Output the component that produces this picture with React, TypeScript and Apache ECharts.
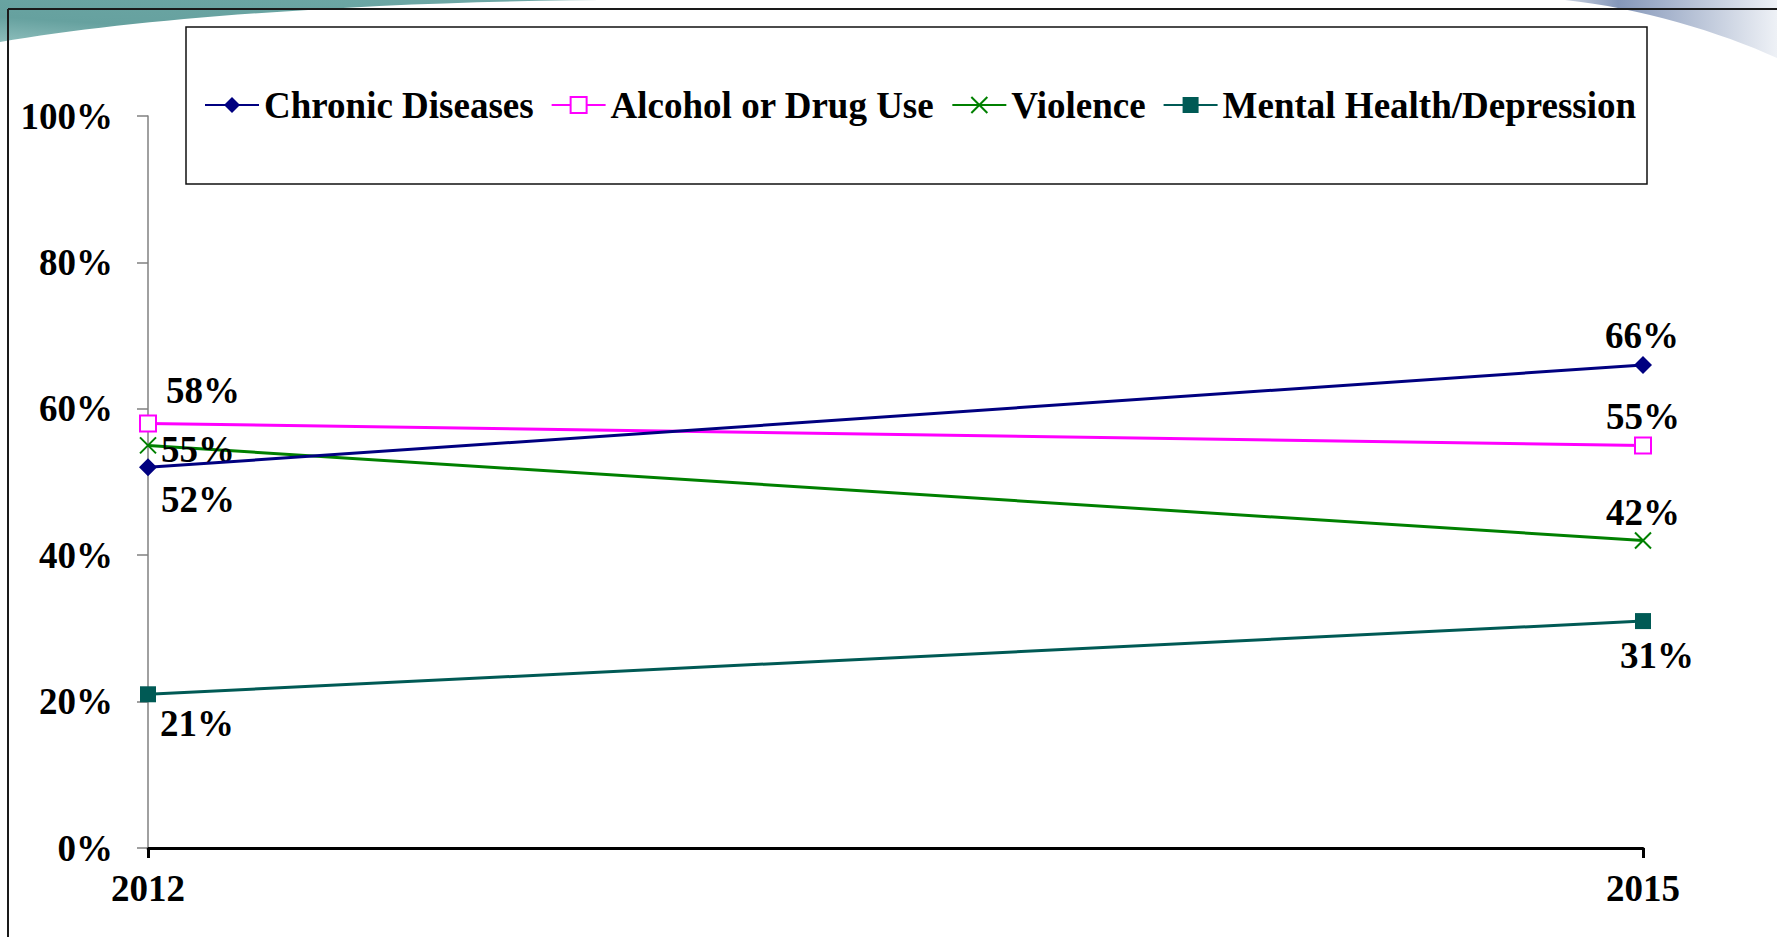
import React, { useEffect, useRef } from "react";
import * as echarts from "echarts";

const years = ["2012", "2015"];
const seriesNames = ["Chronic Diseases", "Alcohol or Drug Use", "Violence", "Mental Health/Depression"];
const chronic = [52, 66];
const alcohol = [58, 55];
const violence = [55, 42];
const mental = [21, 31];
const yMin = 0;
const yMax = 100;
const yInterval = 20;

const FONT = "'Liberation Serif', 'Times New Roman', Times, serif";

echarts.graphic.registerShape(
  "swoosh",
  echarts.graphic.extendPath("M0,0 L630,0 C400,0 150,16 0,42 Z", {})
);
echarts.graphic.registerShape(
  "cornerwave",
  echarts.graphic.extendPath("M1565,0 L1777,0 L1777,58 C1720,32 1640,8 1565,0 Z", {})
);

const lbl = (dx: number, dy: number) => ({
  show: true,
  position: "inside",
  offset: [dx, dy],
  formatter: "{c}%",
  fontSize: 37,
  fontWeight: "bold",
  fontFamily: FONT,
  color: "#000",
});

export default function App() {
  const ref = useRef<HTMLDivElement>(null);
  useEffect(() => {
    document.body.style.margin = "0";
    const chart = echarts.init(ref.current!, null, { renderer: "svg" });
    const mk = (vals: number[], offs: number[][]) =>
      vals.map((v, i) => ({ value: v, label: lbl(offs[i][0], offs[i][1]) }));
    chart.setOption({
      animation: false,
      backgroundColor: "#ffffff",
      textStyle: { fontFamily: FONT },
      graphic: [
        {
          type: "swoosh",
          x: 0,
          y: 0,
          z: -10,
          style: {
            fill: new echarts.graphic.LinearGradient(0, 1, 1, 0, [
              { offset: 0, color: "#8cbdbb" },
              { offset: 0.3, color: "#66a19f" },
              { offset: 1, color: "#6ea8a6" },
            ]),
          },
        },
        {
          type: "cornerwave",
          x: 0,
          y: 0,
          z: -10,
          style: {
            fill: new echarts.graphic.LinearGradient(0, 0, 1, 0, [
              { offset: 0, color: "#c8d1e0" },
              { offset: 0.25, color: "#8597b9" },
              { offset: 1, color: "#eef1f6" },
            ]),
          },
        },
        {
          type: "line",
          z: -5,
          shape: { x1: 8, y1: 9, x2: 1777, y2: 9 },
          style: { stroke: "#1a1a1a", lineWidth: 2 },
        },
        {
          type: "line",
          z: -5,
          shape: { x1: 8, y1: 9, x2: 8, y2: 937 },
          style: { stroke: "#1a1a1a", lineWidth: 2 },
        },
        {
          type: "rect",
          z: -1,
          shape: { x: 186, y: 27, width: 1461, height: 157 },
          style: { fill: "#ffffff", stroke: "#111", lineWidth: 1.5 },
        },
      ],
      legend: {
        data: seriesNames,
        left: 204,
        top: 84,
        padding: 0,
        itemWidth: 54,
        itemHeight: 20,
        itemGap: 17,
        textStyle: {
          fontSize: 37,
          fontWeight: "bold",
          fontFamily: FONT,
          color: "#000",
          lineHeight: 42,
        },
      },
      grid: { left: 148, right: 134, top: 116, bottom: 89, containLabel: false },
      xAxis: {
        type: "category",
        data: years,
        boundaryGap: false,
        axisLine: { show: true, lineStyle: { color: "#000", width: 3 } },
        axisTick: { show: true, length: 10, lineStyle: { color: "#000", width: 3 } },
        axisLabel: {
          fontSize: 37,
          fontWeight: "bold",
          fontFamily: FONT,
          color: "#000",
          margin: 22,
        },
        splitLine: { show: false },
      },
      yAxis: {
        type: "value",
        min: yMin,
        max: yMax,
        interval: yInterval,
        axisLine: { show: true, lineStyle: { color: "#808080", width: 1.5 } },
        axisTick: { show: true, length: 11, lineStyle: { color: "#808080", width: 1.5 } },
        axisLabel: {
          formatter: "{value}%",
          fontSize: 37,
          fontWeight: "bold",
          fontFamily: FONT,
          color: "#000",
          margin: 35,
        },
        splitLine: { show: false },
      },
      series: [
        {
          name: seriesNames[0],
          type: "line",
          data: mk(chronic, [[50, 32], [-1, -29]]),
          symbol: "diamond",
          symbolSize: 18,
          lineStyle: { color: "#000080", width: 3 },
          itemStyle: { color: "#000080" },
          z: 3,
        },
        {
          name: seriesNames[1],
          type: "line",
          data: mk(alcohol, [[55, -33], [0, -29]]),
          symbol: "emptyRect",
          symbolSize: 16,
          lineStyle: { color: "#ff00ff", width: 3 },
          itemStyle: { color: "#ff00ff", borderColor: "#ff00ff", borderWidth: 2 },
          z: 2,
        },
        {
          name: seriesNames[2],
          type: "line",
          data: mk(violence, [[50, 4], [0, -28]]),
          symbol: "path://M0,0L10,10M10,0L0,10",
          symbolSize: 16,
          lineStyle: { color: "#008000", width: 3 },
          itemStyle: { color: "#008000", borderColor: "#008000", borderWidth: 2 },
          z: 2,
        },
        {
          name: seriesNames[3],
          type: "line",
          data: mk(mental, [[49, 29], [14, 34]]),
          symbol: "rect",
          symbolSize: 16,
          lineStyle: { color: "#005a55", width: 3 },
          itemStyle: { color: "#005a55" },
          z: 2,
        },
      ],
    });
    return () => chart.dispose();
  }, []);
  return <div ref={ref} style={{ width: 1777, height: 937 }} />;
}
